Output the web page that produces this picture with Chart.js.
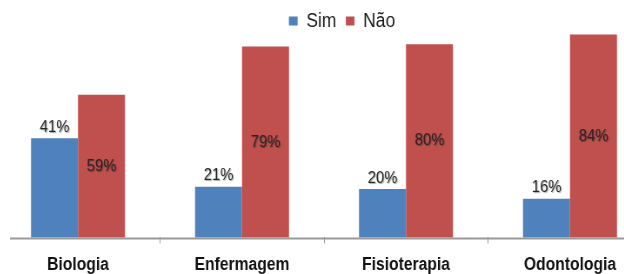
<!DOCTYPE html>
<html>
<head>
<meta charset="utf-8">
<script src="https://cdn.jsdelivr.net/npm/chart.js@4/dist/chart.umd.min.js"></script>
<style>
  html, body { margin: 0; padding: 0; background: #fff; overflow: hidden; }
  /* il grafico originale ha un carattere stretto: comprimo il canvas in orizzontale */
  #wrap { position: absolute; left: -4px; top: 0; width: 795.4px; height: 287px;
          transform: scaleX(0.87); transform-origin: 0 0; }
</style>
</head>
<body>
<div id="wrap"><canvas id="grafico"></canvas></div>
<script>
// dati
const cursos = ['Biologia', 'Enfermagem', 'Fisioterapia', 'Odontologia'];
const sim = [41, 21, 20, 16];
const nao = [59, 79, 80, 84];

const FONTE = '"Liberation Sans", Arial, sans-serif';

// etichette con le percentuali sopra/dentro le barre
const etichette = {
  id: 'etichette',
  afterDatasetsDraw(chart) {
    const ctx = chart.ctx;
    ctx.save();
    ctx.font = '17px ' + FONTE;
    ctx.fillStyle = '#262626';
    ctx.textAlign = 'center';
    ctx.textBaseline = 'middle';
    ctx.shadowColor = 'rgba(0,0,0,0.35)';
    ctx.shadowOffsetX = 1;
    ctx.shadowOffsetY = 1;
    ctx.shadowBlur = 1;
    chart.data.datasets.forEach((ds, i) => {
      chart.getDatasetMeta(i).data.forEach((bar, j) => {
        const testo = ds.data[j] + '%';
        if (i === 0) {
          ctx.fillText(testo, bar.x, bar.y - 11);
        } else {
          ctx.fillText(testo, bar.x, (bar.y + bar.base) / 2);
        }
      });
    });
    ctx.restore();
  }
};

// linea dell'asse che parte poco dopo il bordo sinistro
const asse = {
  id: 'asse',
  afterDatasetsDraw(chart) {
    const ctx = chart.ctx;
    const y = chart.scales.y.getPixelForValue(0);
    ctx.save();
    ctx.strokeStyle = '#9a9a9a';
    ctx.lineWidth = 2;
    ctx.beginPath();
    ctx.moveTo(chart.chartArea.left + 16, y + 1);
    ctx.lineTo(chart.chartArea.right, y + 1);
    ctx.stroke();
    ctx.restore();
  }
};

new Chart(document.getElementById('grafico'), {
  type: 'bar',
  data: {
    labels: cursos,
    datasets: [
      { label: 'Sim', data: sim, backgroundColor: '#4F81BD', clip: false },
      { label: 'Não', data: nao, backgroundColor: '#C0504D', clip: false }
    ]
  },
  options: {
    responsive: true,
    maintainAspectRatio: false,
    animation: false,
    layout: { padding: 0 },
    datasets: { bar: { categoryPercentage: 0.573, barPercentage: 1 } },
    plugins: {
      legend: {
        position: 'top',
        align: 'center',
        labels: {
          boxWidth: 10,
          boxHeight: 9,
          padding: 11,
          color: '#1a1a1a',
          font: { family: FONTE, size: 20 }
        }
      },
      tooltip: { enabled: false }
    },
    scales: {
      x: {
        border: { display: false },
        grid: { display: true, drawOnChartArea: false, drawTicks: true, tickLength: 6, color: '#9a9a9a', lineWidth: 1 },
        ticks: { color: '#111', padding: 11, font: { family: FONTE, size: 18, weight: 'bold', lineHeight: 1.2 } }
      },
      y: {
        position: 'right',
        min: 0,
        max: 81.3,
        border: { display: false },
        grid: { display: false },
        ticks: { display: false },
        afterFit(scale) { scale.width = 41.4; }
      }
    }
  },
  plugins: [etichette, asse]
});
</script>
</body>
</html>
